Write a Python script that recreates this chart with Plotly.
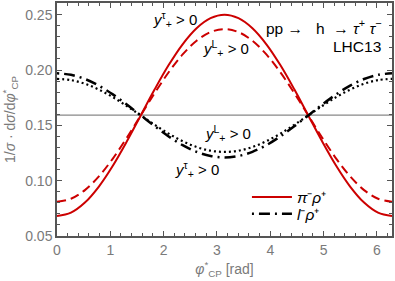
import plotly.graph_objects as go

# angle grid (rad), steps of pi/12
phi = [0.0, 0.2618, 0.5236, 0.7854, 1.0472, 1.3090, 1.5708, 1.8326, 2.0944, 2.3562,
       2.6180, 2.8798, 3.1416, 3.4034, 3.6652, 3.9270, 4.1888, 4.4506, 4.7124, 4.9742,
       5.2360, 5.4978, 5.7596, 6.0214, 6.2832]

# pi- rho+ , y_+^tau > 0 (red solid)
pirho_tau = [0.0680, 0.0711, 0.0802, 0.0947, 0.1135, 0.1354, 0.1590, 0.1826, 0.2045, 0.2233,
             0.2378, 0.2469, 0.2500, 0.2469, 0.2378, 0.2233, 0.2045, 0.1826, 0.1590, 0.1354,
             0.1135, 0.0947, 0.0802, 0.0711, 0.0680]
# pi- rho+ , y_+^L > 0 (red dashed)
pirho_L = [0.0810, 0.0837, 0.0915, 0.1039, 0.1200, 0.1388, 0.1590, 0.1792, 0.1980, 0.2141,
           0.2265, 0.2343, 0.2370, 0.2343, 0.2265, 0.2141, 0.1980, 0.1792, 0.1590, 0.1388,
           0.1200, 0.1039, 0.0915, 0.0837, 0.0810]
# l- rho+ , y_+^tau > 0 (black dash-dot)
lrho_tau = [0.1970, 0.1957, 0.1919, 0.1859, 0.1780, 0.1688, 0.1590, 0.1492, 0.1400, 0.1321,
            0.1261, 0.1223, 0.1210, 0.1223, 0.1261, 0.1321, 0.1400, 0.1492, 0.1590, 0.1688,
            0.1780, 0.1859, 0.1919, 0.1957, 0.1970]
# l- rho+ , y_+^L > 0 (black dotted)
lrho_L = [0.1920, 0.1909, 0.1876, 0.1823, 0.1755, 0.1675, 0.1590, 0.1505, 0.1425, 0.1357,
          0.1304, 0.1271, 0.1260, 0.1271, 0.1304, 0.1357, 0.1425, 0.1505, 0.1590, 0.1675,
          0.1755, 0.1823, 0.1876, 0.1909, 0.1920]

uniform_level = 0.1592
x_ticks = [0, 1, 2, 3, 4, 5, 6]
y_ticks = [0.05, 0.10, 0.15, 0.20, 0.25]
y_ticklabels = ["0.05", "0.10", "0.15", "0.20", "0.25"]

RED = "#cc0000"
FONT = "Liberation Sans, Arial, sans-serif"
GRAY = "#7a7a7a"
AXC = "#555555"
DASHDOT = "2px,5px,11px,5px"

fig = go.Figure()
fig.add_trace(go.Scatter(x=[phi[0], phi[-1]], y=[uniform_level, uniform_level], mode="lines",
                         line=dict(color="#888888", width=1.2), showlegend=False, hoverinfo="skip"))
fig.add_trace(go.Scatter(x=phi, y=lrho_L, mode="lines", line=dict(color="black", width=2.2, dash="2px,3px", shape="spline"),
                         showlegend=False))
fig.add_trace(go.Scatter(x=phi, y=pirho_L, mode="lines", line=dict(color=RED, width=2, dash="9px,5px", shape="spline"),
                         showlegend=False))
fig.add_trace(go.Scatter(x=phi, y=pirho_tau, mode="lines", line=dict(color=RED, width=2, shape="spline"),
                         name="<i>π</i>⁻<i>ρ</i>⁺", legend="legend"))
fig.add_trace(go.Scatter(x=phi, y=lrho_tau, mode="lines", line=dict(color="black", width=2.5, dash=DASHDOT, shape="spline"),
                         name="<i>l</i>⁻<i>ρ</i>⁺", legend="legend2"))

ann_font = dict(family=FONT, size=15, color="black")
# labels: (x, y, superscript letter)
ylabels = [
    (1.764, 0.2453, "τ"),
    (2.70, 0.2194, "L"),
    (2.74, 0.1423, "L"),
    (2.18, 0.1100, "τ"),
]
for x, y, s in ylabels:
    fig.add_annotation(x=x, y=y, text=f"<i>y</i><sup>{s}</sup><sub>+</sub> > 0", showarrow=False,
                       xanchor="left", yanchor="middle", font=ann_font)

fig.add_annotation(x=6.13, y=0.2390,
                   text="pp →&nbsp;&nbsp;&nbsp;h&nbsp;&nbsp;→&nbsp;<i>τ</i><sup>+</sup>&nbsp;<i>τ</i><sup>−</sup>",
                   showarrow=False, xanchor="right", yanchor="middle", font=dict(family=FONT, size=15.5, color="black"))
fig.add_annotation(x=6.12, y=0.2211, text="LHC13", showarrow=False, xanchor="right", yanchor="middle",
                   font=dict(family=FONT, size=15.5, color="black"))

axis_common = dict(showline=True, linecolor=AXC, linewidth=1.5, mirror="allticks",
                   ticks="inside", ticklen=5, tickcolor=AXC, tickwidth=1,
                   showgrid=False, zeroline=False,
                   tickfont=dict(family=FONT, size=14, color=GRAY))
fig.update_xaxes(range=[0, 6.2832], tickvals=x_ticks, **axis_common,
                 minor=dict(dtick=0.2, ticks="inside", ticklen=3, tickcolor=AXC),
                 title=dict(text="<i>φ</i><sup>*</sup><sub>CP</sub> [rad]", font=dict(family=FONT, size=14, color=GRAY), standoff=8))
fig.update_yaxes(range=[0.05, 0.2606], tickvals=y_ticks, ticktext=y_ticklabels, **axis_common,
                 minor=dict(dtick=0.01, ticks="inside", ticklen=3, tickcolor=AXC),
                 title=dict(text="1/<i>σ</i> · d<i>σ</i>/d<i>φ</i><sup>*</sup><sub>CP</sub>", font=dict(family=FONT, size=14, color=GRAY), standoff=6))

leg_common = dict(x=0.567, xanchor="left", yanchor="middle", bgcolor="rgba(0,0,0,0)",
                  font=dict(family=FONT, size=15.5, color="black"), itemwidth=40)
fig.update_layout(
    width=395, height=281,
    margin=dict(l=57, r=3, t=1, b=45),
    paper_bgcolor="white", plot_bgcolor="white",
    legend=dict(y=0.166, **leg_common),
    legend2=dict(y=0.094, **leg_common),
)
fig.write_html("out.html", config={"displayModeBar": False},
               post_script="document.body.style.margin='0';document.body.style.padding='0';")
